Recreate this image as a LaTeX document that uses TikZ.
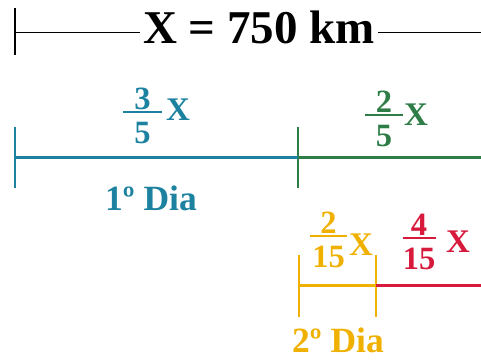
\documentclass[tikz,border=0pt]{standalone}
\usepackage{fontspec}
\setmainfont{Liberation Serif}
\usepackage{tikz}
\usetikzlibrary{calc}
\definecolor{diablue}{RGB}{28,130,160}
\definecolor{diagreen}{RGB}{46,125,70}
\definecolor{diaorange}{RGB}{240,176,0}
\definecolor{diared}{RGB}{215,25,60}

\tikzset{
  titletext/.style={font=\fontsize{47}{50}\selectfont\bfseries, inner sep=3pt, anchor=base},
  daytext/.style={font=\fontsize{35.5}{38}\selectfont\bfseries, inner sep=0pt, anchor=base},
  fracdigit/.style={font=\fontsize{32.5}{34}\selectfont\bfseries, inner sep=0pt, anchor=base},
  fracx/.style={font=\fontsize{33}{35}\selectfont\bfseries, inner sep=0pt, anchor=base west},
  seg/.style={line width=3pt},
  tickline/.style={line width=2.8pt},
  fracbar/.style={line width=1.8pt}
}

% 分数标注: 名称, x中心, 分数线y, 半宽, 分子, 分母, 颜色
\newcommand{\fracnote}[7]{%
  \draw[fracbar, #7] (#2-#4,#3) coordinate (#1barL) -- (#2+#4,#3) coordinate (#1barR);
  \node[fracdigit, #7] (#1num) at (#2,#3-3) {#5};
  \node[fracdigit, #7] (#1den) at (#2,#3+31) {#6};
}

\begin{document}
\begin{tikzpicture}[x=1pt,y=-1pt]
		\useasboundingbox (0,0) rectangle (481,362);
		
		% 1. 总长度 X = 750 km
		\node[titletext] (total) at (259,43) {X = 750 km};
		\coordinate (T0) at (15,32);
		\coordinate (T1) at (481,32);
		\draw[line width=1.2pt] (15,8) -- (15,55);
		\draw[line width=1pt] (T0) -- (total.west |- T0);
		\draw[line width=1pt] (total.east |- T1) -- (T1);
		
		% 2. 第一天 (蓝) 与剩余部分 (绿)
		\coordinate (A) at (15,157);
		\coordinate (B) at (298,157);
		\coordinate (C) at (481,157);
		\draw[tickline, diablue] ($(A)+(0,-30)$) -- ($(A)+(0,31)$);
		\draw[tickline, diagreen] ($(B)+(0,-30)$) -- ($(B)+(0,31)$);
		\draw[seg, diablue] (A) -- (B);
		\draw[seg, diagreen] (B) -- (C);
		
		\fracnote{blue}{142.5}{112}{19.5}{3}{5}{diablue}
		\node[fracx, diablue] (blueX) at (166,120) {X};
		\fracnote{green}{384}{115}{19}{2}{5}{diagreen}
		\node[fracx, diagreen] (greenX) at (404,125) {X};
		\node[daytext, diablue] (day1) at (151,210) {1º Dia};
		
		% 3. 第二天 (橙) 与剩余部分 (红)
		\coordinate (D) at (299,285);
		\coordinate (E) at (376,285);
		\coordinate (F) at (481,285);
		\draw[tickline, diaorange] ($(D)+(0,-30)$) -- ($(D)+(0,32)$);
		\draw[tickline, diaorange] ($(E)+(0,-30)$) -- ($(E)+(0,32)$);
		\draw[seg, diaorange] (D) -- (E);
		\draw[seg, diared] (E) -- (F);
		
		\fracnote{orange}{328.5}{236}{18.5}{2}{15}{diaorange}
		\node[fracx, diaorange] (orangeX) at (349,255) {X};
		\fracnote{red}{419}{238}{16.5}{4}{15}{diared}
		\node[fracx, diared] (redX) at (446,252) {X};
		\node[daytext, diaorange] (day2) at (338,352) {2º Dia};
		
	\end{tikzpicture}
\end{document}
